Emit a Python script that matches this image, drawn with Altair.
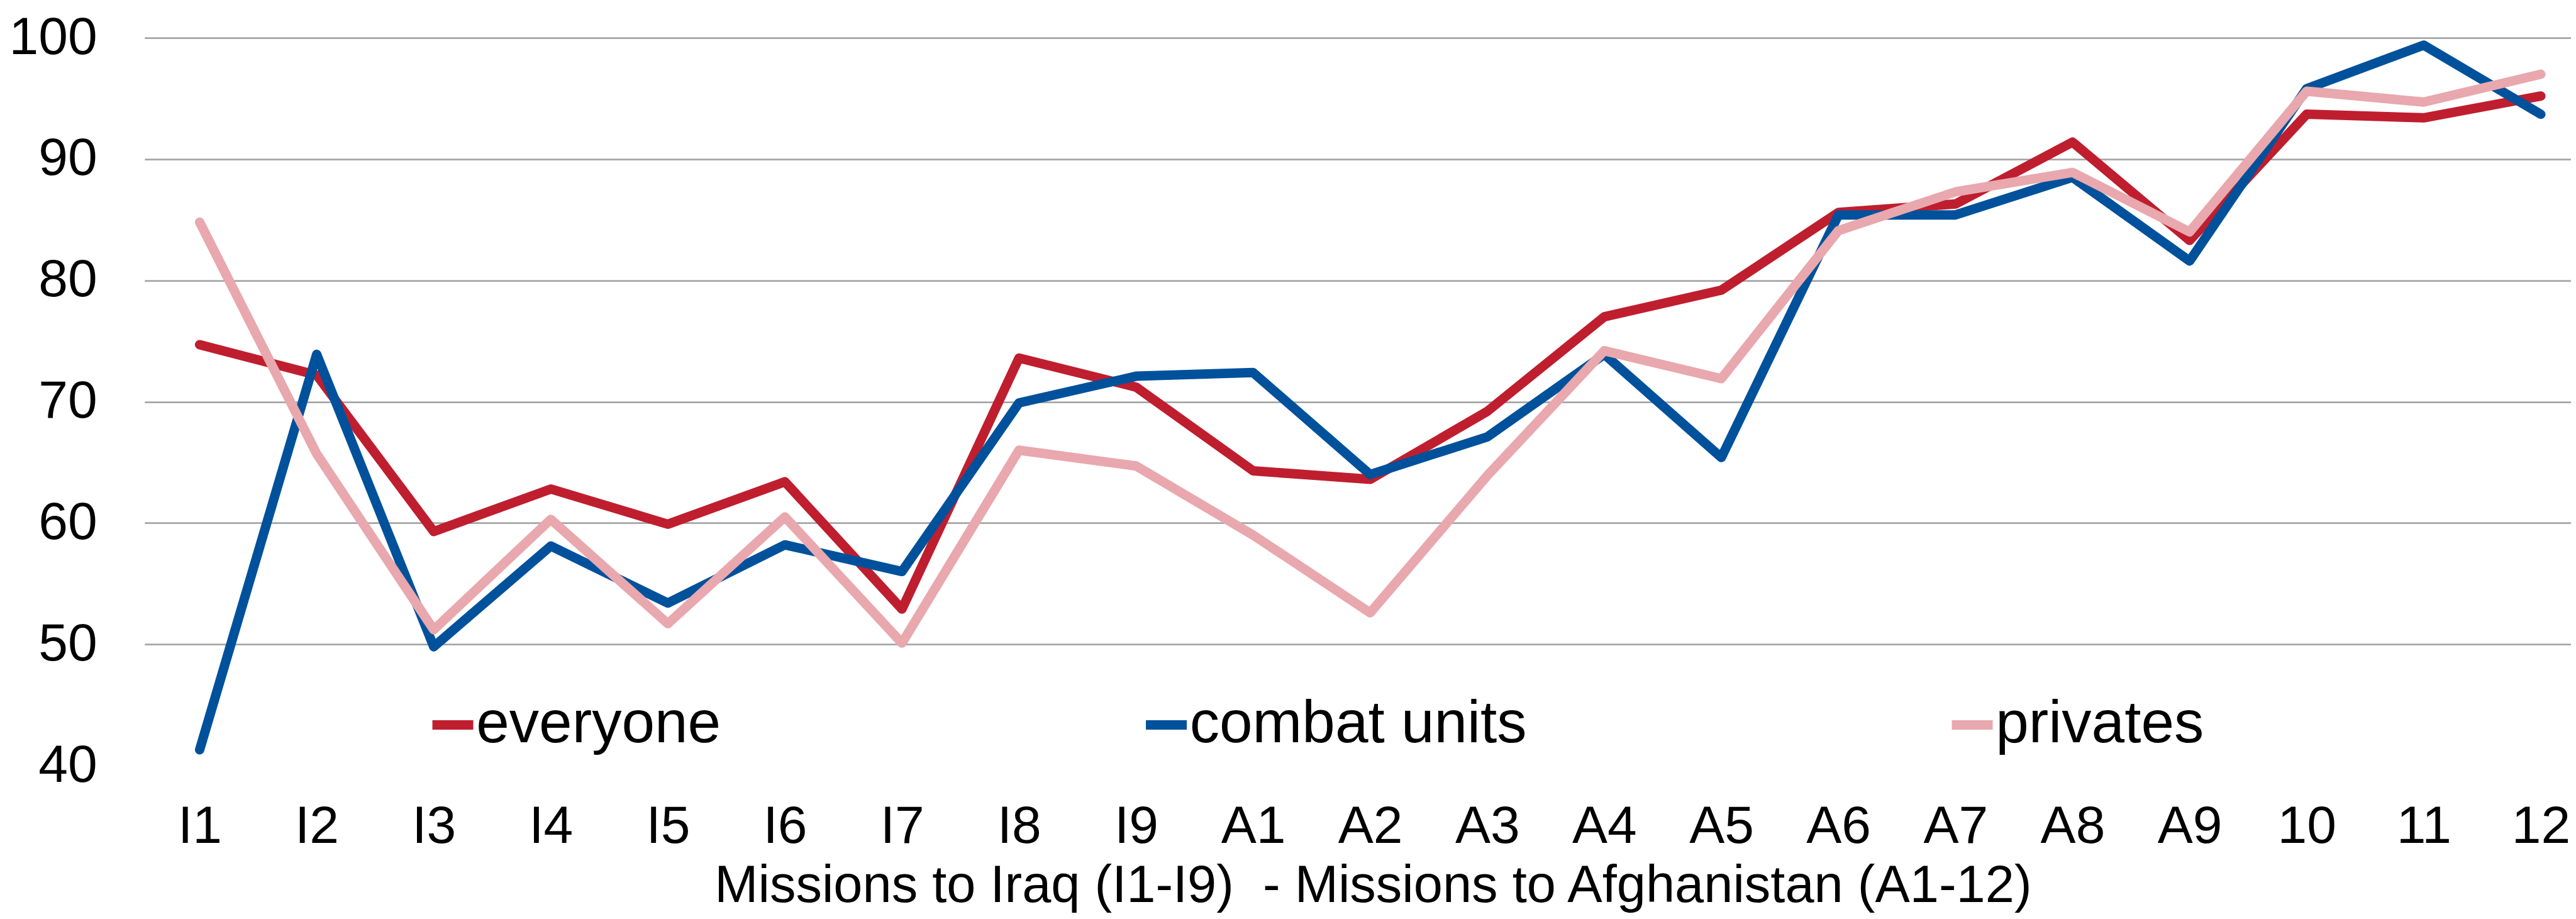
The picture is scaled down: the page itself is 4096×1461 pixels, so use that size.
import altair as alt
import pandas as pd

missions = ["I1", "I2", "I3", "I4", "I5", "I6", "I7", "I8", "I9",
            "A1", "A2", "A3", "A4", "A5", "A6", "A7", "A8", "A9", "10", "11", "12"]
everyone = [74.7, 72.2, 59.3, 62.8, 59.9, 63.4, 52.9, 73.6, 71.2, 64.3, 63.6,
            69.2, 77.0, 79.2, 85.6, 86.3, 91.4, 83.3, 93.7, 93.4, 95.2]
combat_units = [41.3, 73.9, 49.8, 58.1, 53.4, 58.2, 56.0, 69.9, 72.1, 72.4, 64.0,
                67.1, 73.9, 65.4, 85.4, 85.4, 88.5, 81.6, 95.8, 99.4, 93.7]
privates = [84.8, 65.7, 51.2, 60.3, 51.7, 60.5, 50.1, 66.0, 64.7, 59.0, 52.6,
            63.9, 74.2, 71.9, 84.1, 87.3, 88.9, 84.0, 95.6, 94.7, 97.0]

series_names = ["everyone", "combat units", "privates"]
series_colors = ["#BF1E2F", "#00519B", "#E8A8AE"]
series_widths = [15, 15, 15.5]
y_ticks = [40, 50, 60, 70, 80, 90, 100]
x_title = "Missions to Iraq (I1-I9)\u00a0 - Missions to Afghanistan (A1-12)"

rows = []
for name, vals in zip(series_names, [everyone, combat_units, privates]):
    for m, v in zip(missions, vals):
        rows.append({"mission": m, "series": name, "value": v})
df = pd.DataFrame(rows)

FONT = "Liberation Sans"

chart = alt.Chart(df).mark_line(
    strokeJoin="round", strokeCap="round"
).encode(
    x=alt.X(
        "mission:N",
        sort=missions,
        scale=alt.Scale(type="point", padding=0.3643, align=0.646),
        axis=alt.Axis(
            title=x_title,
            labelAngle=0,
            ticks=False,
            tickSize=0,
            domain=False,
            grid=False,
            labelOverlap=False,
            labelFontSize=84,
            labelFont=FONT,
            labelColor="black",
            labelPadding=56,
            titleFontSize=83,
            titleFont=FONT,
            titleFontWeight="normal",
            titleColor="black",
            titleX=906,
            titleY=216,
            titleAlign="left",
            titleBaseline="alphabetic",
        ),
    ),
    y=alt.Y(
        "value:Q",
        scale=alt.Scale(domain=[40, 100], nice=False, zero=False),
        axis=alt.Axis(
            title=None,
            values=y_ticks,
            ticks=False,
            tickSize=0,
            domain=False,
            labelFontSize=84,
            labelFont=FONT,
            labelColor="black",
            labelPadding=75.6,
            gridColor="#A6A6A6",
            gridWidth=2.6,
            gridOpacity={"condition": {"test": "datum.value <= 40", "value": 0}, "value": 1},
        ),
    ),
    color=alt.Color(
        "series:N",
        sort=series_names,
        scale=alt.Scale(domain=series_names, range=series_colors),
        legend=alt.Legend(
            title=None,
            orient="none",
            legendX=443,
            legendY=1045,
            direction="horizontal",
            columns=3,
            symbolType="stroke",
            symbolSize=4225,
            symbolStrokeWidth=15.3,
            labelFontSize=94.5,
            labelFont=FONT,
            labelColor="black",
            labelOffset={"expr": "-10"},
            labelLimit=3000,
            columnPadding=644.5,
            padding=0,
        ),
    ),
    strokeWidth=alt.StrokeWidth(
        "series:N",
        scale=alt.Scale(domain=series_names, range=series_widths),
        legend=None,
    ),
).properties(
    width=3858.2,
    height=1157,
    autosize=alt.AutoSizeParams(type="none"),
    padding={"left": 221.8, "top": 52.1, "right": 0, "bottom": 235.9},
).configure_view(strokeWidth=0)

chart.save("out.html", embed_options={"renderer": "svg", "actions": False})
